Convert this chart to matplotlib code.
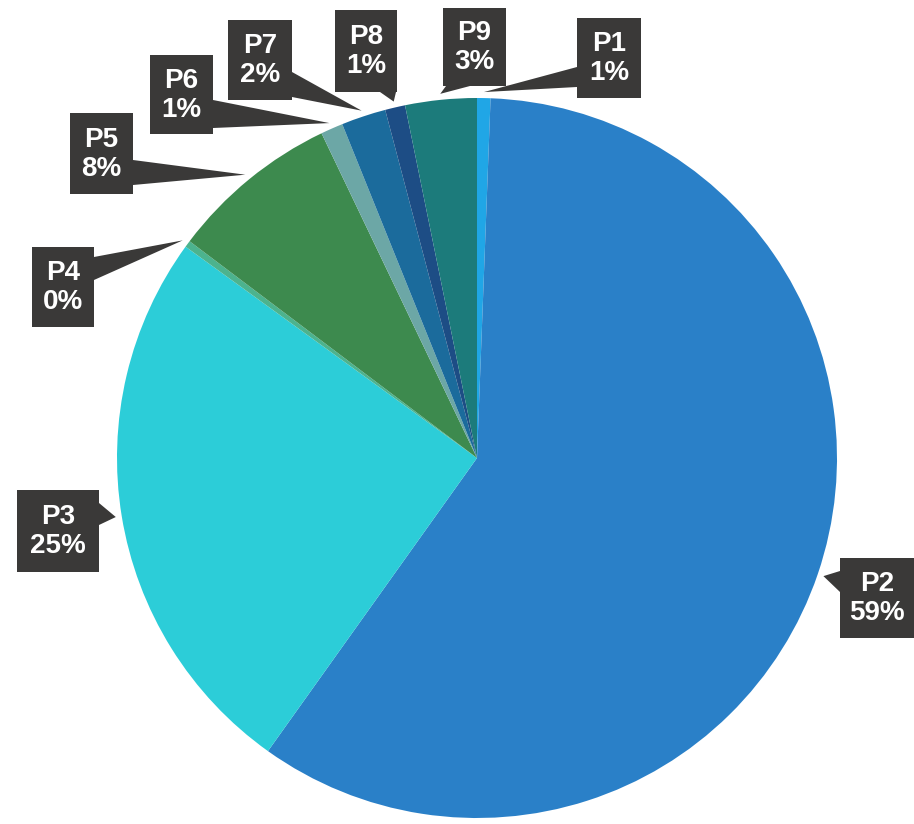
import numpy as np
import matplotlib
matplotlib.use("Agg")
import matplotlib.pyplot as plt
from matplotlib.patches import Polygon

# data (clockwise from 12 o'clock)
labels = ['P1', 'P2', 'P3', 'P4', 'P5', 'P6', 'P7', 'P8', 'P9']
values = [0.6, 59.2, 25.1, 0.3, 7.6, 1.0, 2.0, 0.9, 3.2]
colors = ['#20a6e6', '#2a80c8', '#2ccdd8', '#4cb38e', '#3d8a4e',
          '#6ca7a6', '#1b6b9c', '#1d4d85', '#1c7b7b']

# callout boxes: (x0, y0, x1, y1) in pixel coords (y down), pointer base
boxes = {
    'P1': ((577, 18, 641, 98), ((577, 67), (577, 87))),
    'P9': ((443, 8, 506, 86), ((446, 86), (470, 86))),
    'P8': ((335, 10, 397, 92), ((380, 92), (396, 92))),
    'P7': ((228, 20, 292, 100), ((292, 72), (292, 97))),
    'P6': ((150, 55, 213, 134), ((213, 100), (213, 128))),
    'P5': ((70, 113, 133, 194), ((133, 160), (133, 185))),
    'P4': ((32, 247, 94, 327), ((94, 257), (94, 280))),
    'P3': ((17, 490, 99, 572), ((99, 503), (99, 525))),
    'P2': ((840, 558, 914, 638), ((840, 571), (840, 592))),
}

W, H = 914, 824
cx, cy, R = 477, 458, 360
box_col = '#3a3938'

fig = plt.figure(figsize=(W / 100, H / 100), dpi=100)
ax = fig.add_axes([0, 0, 1, 1])
ax.pie(values, colors=colors, startangle=90, counterclock=False,
       center=(cx, H - cy), radius=R, wedgeprops=dict(linewidth=0))
ax.set_xlim(0, W)
ax.set_ylim(0, H)
ax.set_aspect('equal')
ax.axis('off')

total = sum(values)
start = 0.0
for lab, v in zip(labels, values):
    mid = np.deg2rad(start + 360 * v / total / 2)  # clockwise from top
    start += 360 * v / total
    tx = cx + (R + 6) * np.sin(mid)
    ty = cy - (R + 6) * np.cos(mid)
    (x0, y0, x1, y1), (b1, b2) = boxes[lab]
    ax.add_patch(Polygon([(b1[0], H - b1[1]), (tx, H - ty), (b2[0], H - b2[1])],
                         closed=True, facecolor=box_col, edgecolor='none', zorder=5))
    ax.add_patch(Polygon([(x0, H - y0), (x1, H - y0), (x1, H - y1), (x0, H - y1)],
                         closed=True, facecolor=box_col, edgecolor='none', zorder=6))
    xc = (x0 + x1) / 2
    yc = (y0 + y1) / 2
    ax.text(xc, H - (yc - 14), lab, color='white', fontsize=20, fontweight='bold',
            family='Liberation Sans', ha='center', va='center', zorder=7)
    ax.text(xc, H - (yc + 15), '%d%%' % round(v), color='white', fontsize=20,
            fontweight='bold', family='Liberation Sans', ha='center', va='center', zorder=7)

fig.savefig('out.png', dpi=100)
